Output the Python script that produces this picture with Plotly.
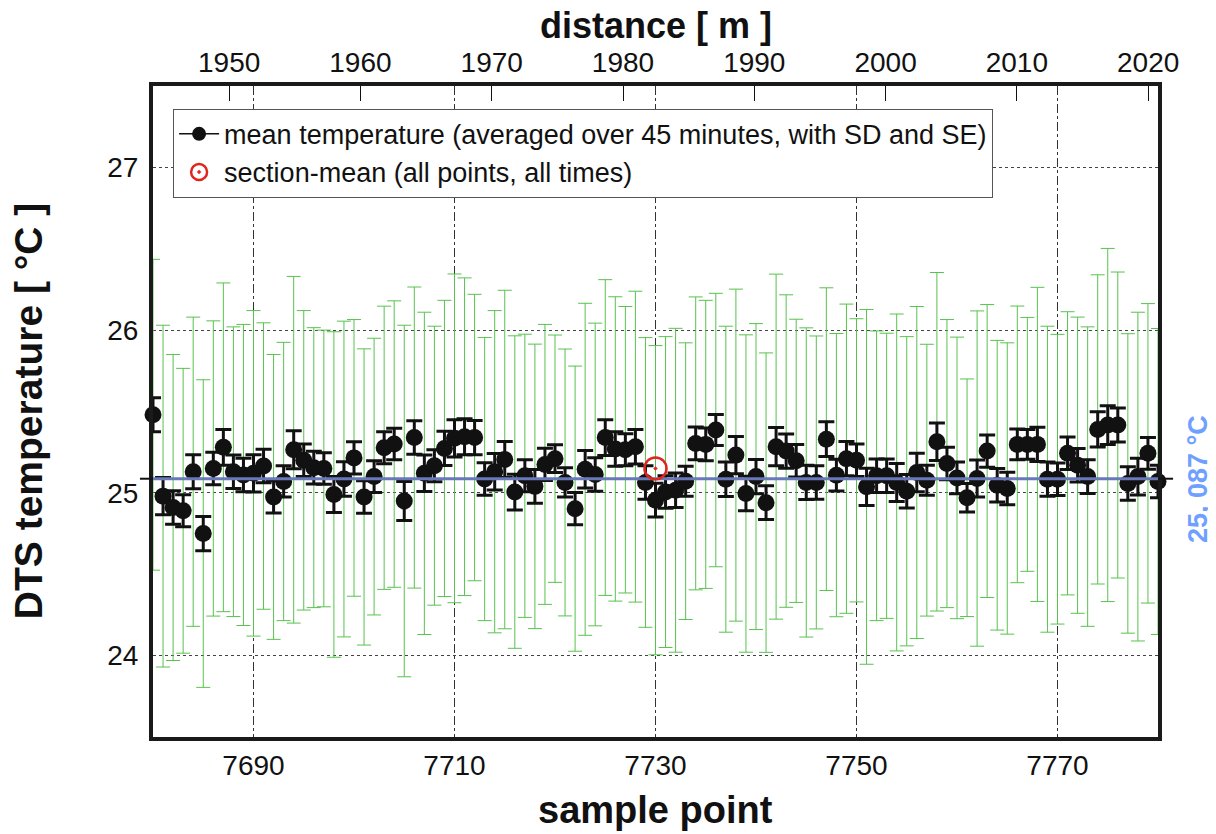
import plotly.graph_objects as go

# ---------------- data ----------------
SAMPLE_POINTS = list(range(7680, 7781))

MEAN_T = [
    25.48, 24.98, 24.91, 24.89, 25.13, 24.75, 25.15, 25.28, 25.13, 25.11,
    25.12, 25.165, 24.975, 25.07, 25.265, 25.20, 25.155, 25.15, 24.99, 25.085,
    25.215, 24.975, 25.10, 25.277, 25.30, 24.95, 25.34, 25.12, 25.167, 25.273,
    25.335, 25.345, 25.34, 25.085, 25.13, 25.205, 25.005, 25.105, 25.04, 25.175,
    25.21, 25.064, 24.903, 25.145, 25.113, 25.34, 25.27, 25.265, 25.284, 25.064,
    24.955, 25.005, 25.016, 25.072, 25.304, 25.298, 25.386, 25.084, 25.232, 24.996,
    25.10, 24.94, 25.284, 25.257, 25.197, 25.064, 25.064, 25.33, 25.109, 25.21,
    25.20, 25.037, 25.105, 25.105, 25.064, 25.01, 25.125, 25.078, 25.314, 25.18,
    25.092, 24.97, 25.088, 25.257, 25.047, 25.027, 25.298, 25.298, 25.298, 25.084,
    25.084, 25.243, 25.17, 25.10, 25.39, 25.417, 25.417, 25.058, 25.10, 25.243,
    25.07,
]

SE_T = [
    0.105, 0.115, 0.103, 0.098, 0.105, 0.105, 0.100, 0.110, 0.103, 0.103,
    0.115, 0.103, 0.099, 0.096, 0.117, 0.100, 0.100, 0.097, 0.110, 0.106,
    0.099, 0.100, 0.098, 0.098, 0.097, 0.120, 0.103, 0.112, 0.098, 0.105,
    0.115, 0.110, 0.105, 0.100, 0.112, 0.110, 0.110, 0.098, 0.103, 0.099,
    0.085, 0.090, 0.099, 0.115, 0.103, 0.110, 0.106, 0.098, 0.106, 0.103,
    0.104, 0.100, 0.106, 0.092, 0.100, 0.100, 0.095, 0.106, 0.114, 0.106,
    0.105, 0.104, 0.117, 0.105, 0.100, 0.105, 0.103, 0.107, 0.098, 0.105,
    0.100, 0.115, 0.103, 0.103, 0.117, 0.103, 0.118, 0.092, 0.115, 0.100,
    0.098, 0.087, 0.114, 0.099, 0.103, 0.100, 0.095, 0.092, 0.105, 0.105,
    0.100, 0.100, 0.103, 0.104, 0.108, 0.119, 0.104, 0.103, 0.113, 0.098,
    0.100,
]

SD_T = [
    0.955, 1.05, 0.94, 0.875, 0.95, 0.945, 0.907, 1.01, 0.89, 0.925,
    1.00, 0.88, 0.875, 0.855, 1.065, 0.92, 0.86, 0.85, 1.00, 0.97,
    0.85, 0.91, 0.85, 0.87, 0.88, 1.08, 0.925, 0.99, 0.857, 0.91,
    1.01, 0.976, 0.88, 0.87, 0.99, 1.04, 0.96, 0.87, 0.874, 0.86,
    0.76, 0.82, 0.876, 1.02, 0.93, 0.97, 0.935, 0.88, 0.955, 0.89,
    0.95, 0.955, 0.995, 0.85, 0.90, 0.885, 0.84, 0.94, 1.02, 0.975,
    0.94, 0.92, 1.06, 0.96, 0.87, 0.95, 0.90, 0.93, 0.87, 0.95,
    0.87, 1.09, 0.89, 0.876, 1.035, 0.95, 1.02, 0.835, 1.04, 0.885,
    0.865, 0.73, 1.03, 0.90, 0.89, 0.895, 0.85, 0.78, 0.965, 0.94,
    0.89, 0.87, 0.91, 0.92, 0.95, 1.085, 0.94, 0.92, 1.01, 0.92,
    0.94,
]

SECTION_MEAN = 25.087
SECTION_MEAN_LABEL = "25, 087 °C"
SECTION_MARK_X = [7730]
SECTION_MARK_Y = [25.15]

X_RANGE = [7680, 7780]
DIST_RANGE = [1944.2, 2020.75]
Y_RANGE = [23.5, 27.5]
Y_TICKS = [24, 25, 26, 27]
X_TICK0, X_DTICK = 7690, 20
DIST_TICK0, DIST_DTICK = 1950, 10

FONT = "Arial, Liberation Sans, sans-serif"

fig = go.Figure()

# SD (green, thin)
fig.add_trace(go.Scatter(
    x=SAMPLE_POINTS, y=MEAN_T, mode="markers",
    marker=dict(size=1, color="rgba(0,0,0,0)"),
    error_y=dict(type="data", array=SD_T, visible=True,
                 color="#58c24e", thickness=1, width=7),
    showlegend=False, hoverinfo="skip", cliponaxis=False,
))

# SE (black, thick) + mean markers
fig.add_trace(go.Scatter(
    x=SAMPLE_POINTS, y=MEAN_T, mode="markers",
    marker=dict(size=17, color="#111111"),
    error_y=dict(type="data", array=SE_T, visible=True,
                 color="#111111", thickness=3, width=8),
    showlegend=False, cliponaxis=False,
))

# legend entry for the mean series (line + dot symbol)
fig.add_trace(go.Scatter(
    x=[None], y=[None], mode="lines+markers",
    line=dict(color="#111111", width=1.5),
    marker=dict(size=14, color="#111111"),
    name="mean temperature (averaged over 45 minutes, with SD and SE)",
))

# section-mean horizontal line
fig.add_trace(go.Scatter(
    x=X_RANGE, y=[SECTION_MEAN, SECTION_MEAN], mode="lines",
    line=dict(color="#6878b8", width=3),
    showlegend=False, hoverinfo="skip",
))

# section-mean marker
fig.add_trace(go.Scatter(
    x=SECTION_MARK_X, y=SECTION_MARK_Y, mode="markers",
    marker=dict(symbol="circle-open-dot", size=22, color="#e0251d",
                line=dict(width=2.5, color="#e0251d")),
    name="section-mean (all points, all times)", cliponaxis=False,
))

# invisible trace to carry the top distance axis
fig.add_trace(go.Scatter(
    x=DIST_RANGE, y=[Y_RANGE[0], Y_RANGE[0]], xaxis="x2", mode="markers",
    marker=dict(size=1, color="rgba(0,0,0,0)"),
    showlegend=False, hoverinfo="skip",
))

# small black dashes at section-mean level just outside the frame
for x0, x1 in [(-0.013, 0.0), (1.0, 1.015)]:
    fig.add_shape(type="line", xref="x domain", yref="y",
                  x0=x0, x1=x1, y0=SECTION_MEAN, y1=SECTION_MEAN,
                  line=dict(color="#111111", width=2))

fig.update_layout(
    width=1208, height=826,
    margin=dict(l=145, r=58, t=78, b=97),
    paper_bgcolor="white", plot_bgcolor="white",
    font=dict(family=FONT, color="#111111", size=28),
    xaxis=dict(
        range=X_RANGE, tick0=X_TICK0, dtick=X_DTICK, tickmode="linear",
        showgrid=True, gridcolor="#333333", gridwidth=1, griddash="dashdot",
        showline=True, linecolor="#1a1a1a", linewidth=4, mirror=True,
        ticks="outside", ticklen=0, tickcolor="rgba(0,0,0,0)",
        tickfont=dict(size=28), zeroline=False,
    ),
    xaxis2=dict(
        overlaying="x", side="top", range=DIST_RANGE,
        tick0=DIST_TICK0, dtick=DIST_DTICK, tickmode="linear",
        showgrid=False, showline=False, zeroline=False,
        ticks="inside", ticklen=15, tickwidth=1, tickcolor="#111111",
        tickfont=dict(size=28), ticklabelstandoff=7,
    ),
    yaxis=dict(
        range=Y_RANGE, tickvals=Y_TICKS,
        showgrid=True, gridcolor="#444444", gridwidth=1, griddash="dot",
        showline=True, linecolor="#1a1a1a", linewidth=4, mirror=True,
        ticks="outside", ticklen=5, tickcolor="rgba(0,0,0,0)",
        tickfont=dict(size=28), zeroline=False,
    ),
    legend=dict(
        x=0.02, y=0.965, xanchor="left", yanchor="top",
        bgcolor="white", bordercolor="#555555", borderwidth=1,
        font=dict(size=27, family=FONT, color="#111111"),
        tracegroupgap=0, itemwidth=40,
    ),
    showlegend=True,
)

# axis titles & section-mean label
fig.add_annotation(text="<b>distance [ m ]</b>", xref="paper", yref="paper",
                   x=0.5, y=1.093, xanchor="center", yanchor="middle",
                   showarrow=False, borderpad=0,
                   font=dict(size=36, family=FONT))
fig.add_annotation(text="<b>sample point</b>", xref="paper", yref="paper",
                   x=0.5, y=-0.112, xanchor="center", yanchor="middle",
                   showarrow=False, font=dict(size=38, family=FONT))
fig.add_annotation(text="<b>DTS temperature [ °C ]</b>", xref="paper", yref="paper",
                   x=-0.1244, y=0.502, xanchor="center", yanchor="middle",
                   textangle=-90, showarrow=False, font=dict(size=39, family=FONT))
fig.add_annotation(text="<b>" + SECTION_MEAN_LABEL + "</b>", xref="paper", yref="paper",
                   x=1.0398, y=0.3963, xanchor="center", yanchor="middle",
                   textangle=-90, showarrow=False,
                   font=dict(size=27, family=FONT, color="#6fa0ff"))

fig.write_html("out.html")
